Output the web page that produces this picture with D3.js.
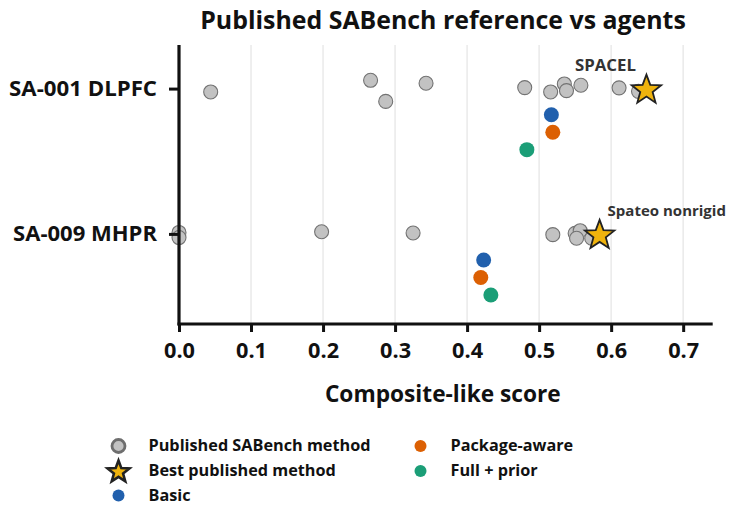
<!DOCTYPE html>
<html>
<head>
<meta charset="utf-8">
<script src="https://cdn.jsdelivr.net/npm/d3@7"></script>
<style>
  html, body { margin: 0; padding: 0; background: #fff; }
  svg { display: block; font-family: "Open Sans", Lato, sans-serif; }
</style>
</head>
<body>
<svg id="chart" width="751" height="505"></svg>
<script>
// Datasets shown as rows
const datasets = ["SA-001 DLPFC", "SA-009 MHPR"];

// Published SABench method scores per dataset, with small vertical jitter
const publishedScores = [
  [0.044, 0.266, 0.287, 0.343, 0.480, 0.516, 0.535, 0.538, 0.558, 0.611, 0.638],
  [0.000, 0.000, 0.198, 0.325, 0.519, 0.550, 0.557, 0.552, 0.573]
];
const publishedJitter = [
  [0.023, -0.057, 0.088, -0.037, -0.007, 0.023, -0.032, 0.014, -0.023, -0.005, 0.019],
  [-0.010, 0.025, -0.015, -0.006, 0.005, -0.004, -0.022, 0.030, 0.030]
];

// Best published method per dataset
const bestNames = ["SPACEL", "Spateo nonrigid"];
const bestScores = [0.649, 0.584];

// Agent variants and their scores per dataset
const agents = ["Basic", "Package-aware", "Full + prior"];
const agentColors = ["#2160ad", "#dc6003", "#1b9e77"];
const agentOffsets = [0.18, 0.30, 0.42];
const agentScores = [
  [0.517, 0.519, 0.483],
  [0.423, 0.419, 0.433]
];

const xTicks = [0.0, 0.1, 0.2, 0.3, 0.4, 0.5, 0.6, 0.7];

const svg = d3.select("#chart");
const plotLeft = 179, plotRight = 712.7, plotTop = 45, plotBottom = 324;

const x = d3.scaleLinear().domain([0, 0.741]).range([plotLeft, plotRight]);
const y = d3.scaleLinear().domain([-0.3, 1.62]).range([plotTop, plotBottom]);

const INK = "#111";
const GOLD = "#efb30d";
const FONT = "'Open Sans', Lato, sans-serif";

// scale a text's font size so that it spans the wanted width
function fitWidth(sel, width) {
  sel.each(function () {
    const base = parseFloat(this.getAttribute("font-size"));
    const w = this.getComputedTextLength();
    if (w > 0) this.setAttribute("font-size", (base * width / w).toFixed(2));
  });
}

// five-point star path centred on the origin
function starPath(R) {
  const r = R * 0.42;
  const pts = [];
  for (let i = 0; i < 10; i++) {
    const a = -Math.PI / 2 + i * Math.PI / 5;
    const rr = i % 2 === 0 ? R : r;
    pts.push([rr * Math.cos(a), rr * Math.sin(a)]);
  }
  return "M" + pts.map(p => p[0].toFixed(2) + "," + p[1].toFixed(2)).join("L") + "Z";
}

// vertical gridlines
svg.append("g").selectAll("line").data(xTicks).join("line")
  .attr("x1", d => x(d)).attr("x2", d => x(d))
  .attr("y1", plotTop).attr("y2", plotBottom)
  .attr("stroke", "#ebebeb").attr("stroke-width", 1.6);

// published methods
const pub = [];
publishedScores.forEach((row, i) => row.forEach((v, j) =>
  pub.push({ v, pos: i + publishedJitter[i][j] })));
svg.append("g").selectAll("circle").data(pub).join("circle")
  .attr("cx", d => x(d.v)).attr("cy", d => y(d.pos)).attr("r", 7)
  .attr("fill", "#c2c2c2").attr("stroke", "#727272").attr("stroke-width", 1.1);

// agent variants
const ag = [];
agentScores.forEach((row, i) => row.forEach((v, k) =>
  ag.push({ v, pos: i + agentOffsets[k], color: agentColors[k] })));
svg.append("g").selectAll("circle").data(ag).join("circle")
  .attr("cx", d => x(d.v)).attr("cy", d => y(d.pos)).attr("r", 7.5)
  .attr("fill", d => d.color);

// best published method stars
const stars = bestScores.map((v, i) => ({ v, pos: i, name: bestNames[i] }));
svg.append("g").selectAll("path").data(stars).join("path")
  .attr("d", starPath(15.5))
  .attr("transform", d => `translate(${x(d.v)},${y(d.pos) + 1.5})`)
  .attr("fill", GOLD).attr("stroke", "#222").attr("stroke-width", 1.8)
  .attr("stroke-linejoin", "miter");

// star annotations
const labelOffsets = [{ dx: -41, anchor: "middle", size: 16.8 }, { dx: 8, anchor: "start", size: 15 }];
svg.append("g").selectAll("text").data(stars).join("text")
  .attr("x", (d, i) => x(d.v) + labelOffsets[i].dx)
  .attr("y", d => y(d.pos) - 18)
  .attr("text-anchor", (d, i) => labelOffsets[i].anchor)
  .attr("font-size", (d, i) => labelOffsets[i].size)
  .attr("font-weight", 700).attr("fill", "#333")
  .text(d => d.name);

// x axis
const xAxis = svg.append("g").attr("transform", `translate(0,${plotBottom})`)
  .call(d3.axisBottom(x).tickValues(xTicks).tickFormat(d3.format(".1f"))
    .tickSize(8).tickSizeOuter(0).tickPadding(11));
xAxis.select(".domain").attr("stroke", INK).attr("stroke-width", 3.2)
  .attr("d", `M${plotLeft - 1.5},0H${plotRight}`);
xAxis.selectAll(".tick line").attr("stroke", INK).attr("stroke-width", 3);
xAxis.selectAll(".tick text").attr("fill", INK).attr("font-size", 18)
  .attr("font-weight", 700).attr("font-family", FONT);
fitWidth(xAxis.selectAll(".tick text"), 31);

// y axis
const yAxis = svg.append("g").attr("transform", `translate(${plotLeft},0)`)
  .call(d3.axisLeft(y).tickValues([0, 1]).tickFormat((d, i) => datasets[i])
    .tickSize(10).tickSizeOuter(0).tickPadding(12));
yAxis.select(".domain").attr("stroke", INK).attr("stroke-width", 3.2)
  .attr("d", `M0,${plotTop}V${plotBottom + 1.5}`);
yAxis.selectAll(".tick line").attr("stroke", INK).attr("stroke-width", 3);
yAxis.selectAll(".tick text").attr("fill", INK).attr("font-size", 19)
  .attr("font-weight", 700).attr("font-family", FONT);
yAxis.selectAll(".tick text").each(function (d, i) {
  fitWidth(d3.select(this), [148, 144][i]);
});

// axis title
svg.append("text").attr("x", (plotLeft + plotRight) / 2 - 3).attr("y", 402)
  .attr("text-anchor", "middle").attr("font-size", 20).attr("font-weight", 700)
  .attr("fill", INK).text("Composite-like score")
  .call(fitWidth, 236);

// chart title
svg.append("text").attr("x", 443).attr("y", 29)
  .attr("text-anchor", "middle").attr("font-size", 22).attr("font-weight", 700)
  .attr("fill", INK).text("Published SABench reference vs agents")
  .call(fitWidth, 486);

// legend
const legendItems = [
  { label: "Published SABench method", kind: "pub", col: 0, row: 0 },
  { label: "Best published method", kind: "star", col: 0, row: 1 },
  { label: agents[0], kind: "dot", color: agentColors[0], col: 0, row: 2 },
  { label: agents[1], kind: "dot", color: agentColors[1], col: 1, row: 0 },
  { label: agents[2], kind: "dot", color: agentColors[2], col: 1, row: 1 }
];
const colX = [118.5, 420.5], rowY = [446, 471, 495.5];
const leg = svg.append("g").selectAll("g").data(legendItems).join("g")
  .attr("transform", d => `translate(${colX[d.col]},${rowY[d.row]})`);
leg.filter(d => d.kind === "pub").append("circle").attr("r", 6.5)
  .attr("fill", "#c2c2c2").attr("stroke", "#6e6e6e").attr("stroke-width", 2.8);
leg.filter(d => d.kind === "star").append("path").attr("d", starPath(11.5))
  .attr("transform", "translate(0,1)")
  .attr("fill", GOLD).attr("stroke", "#222").attr("stroke-width", 2.6);
leg.filter(d => d.kind === "dot").append("circle").attr("r", 6)
  .attr("fill", d => d.color);
const legText = leg.append("text").attr("x", 30).attr("y", 5).attr("font-size", 16)
  .attr("font-weight", 700).attr("fill", INK).text(d => d.label);
// one common size for all legend entries, set from the longest one
const refNode = legText.filter((d, i) => i === 0).node();
const legSize = 16 * 222 / refNode.getComputedTextLength();
legText.attr("font-size", legSize.toFixed(2));
</script>
</body>
</html>
